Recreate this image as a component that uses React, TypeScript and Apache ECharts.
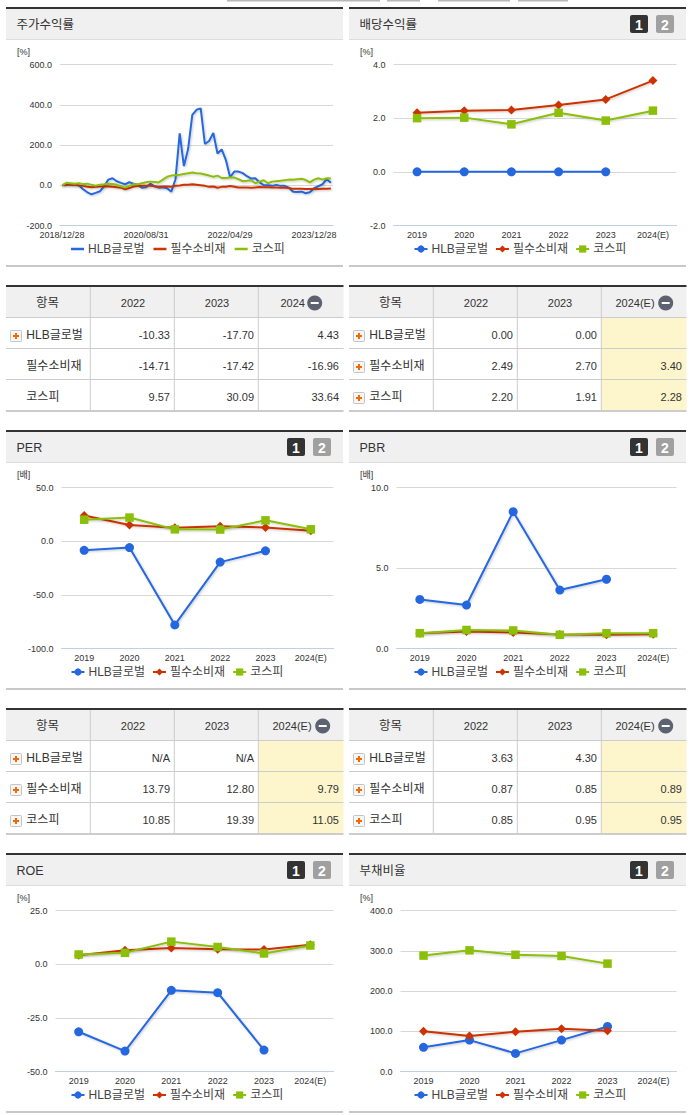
import React, { useEffect, useRef } from "react";
import * as echarts from "echarts";

const NAMES = ["HLB글로벌", "필수소비재", "코스피"];
const COLORS = ["#2567df", "#cc3300", "#8cbf0a"];
const SYMBOLS = ["circle", "diamond", "rect"];
const SYMBOL_SIZES = [9, 9, 8.5];
const YEARS = ["2019", "2020", "2021", "2022", "2023", "2024(E)"];

const priceDates = [
  "2018/12/28","2019/01/31","2019/02/28","2019/03/29","2019/04/30","2019/05/31","2019/06/28","2019/07/31","2019/08/30","2019/09/30","2019/10/31","2019/11/29","2019/12/30",
  "2020/01/31","2020/02/28","2020/03/31","2020/04/29","2020/05/29","2020/06/30","2020/07/31","2020/08/31","2020/09/29","2020/10/30","2020/11/30","2020/12/30",
  "2021/01/29","2021/02/26","2021/03/31","2021/04/30","2021/05/31","2021/06/30","2021/07/30","2021/08/31","2021/09/30","2021/10/29","2021/11/30","2021/12/30",
  "2022/01/28","2022/02/28","2022/03/31","2022/04/29","2022/05/31","2022/06/30","2022/07/29","2022/08/31","2022/09/30","2022/10/31","2022/11/30","2022/12/29",
  "2023/01/31","2023/02/28","2023/03/31","2023/04/28","2023/05/31","2023/06/30","2023/07/31","2023/08/31","2023/09/27","2023/10/31","2023/11/30","2023/12/28",
  "2024/01/31","2024/02/29","2024/03/29","2024/04/30",
];
const priceHlb = [0,5,3,3,0,-20,-35,-45,-38,-30,-5,28,35,20,12,5,15,8,2,-12,-10,8,-5,-12,-10,-15,-32,30,258,95,180,350,375,382,205,220,260,158,178,125,40,68,68,60,45,33,35,15,0,0,-3,2,-3,-3,-12,-32,-33,-32,-40,-35,-15,-5,5,30,12];
const priceStaples = [0,3,3,2,-1,-3,-8,-10,-8,-6,-5,-6,-8,-10,-12,-20,-14,-6,-4,-3,-3,-2,-5,-7,-6,-6,-7,-3,-1,2,3,5,3,0,-3,-8,-6,-12,-8,-7,-4,-7,-11,-11,-11,-13,-11,-9,-10,-10,-11,-11,-12,-13,-14,-18,-18,-17,-19,-19,-18,-19,-18,-17,-16];
const priceKospi = [0,12,10,7,10,5,8,2,-2,3,5,8,6,2,-5,-12,-3,5,5,10,15,18,16,14,28,42,48,50,52,56,60,63,60,58,53,48,42,48,36,36,38,38,30,20,22,25,10,18,25,10,18,20,22,25,28,27,30,32,26,14,28,35,28,35,33];

const dividendHlb = [0, 0, 0, 0, 0, null];
const dividendStaples = [2.2, 2.28, 2.3, 2.49, 2.7, 3.4];
const dividendKospi = [2.0, 2.02, 1.77, 2.2, 1.91, 2.28];
const perHlb = [-8.5, -6, -78, -19.5, -9, null];
const perStaples = [24, 15, 12.5, 13.79, 12.8, 9.79];
const perKospi = [20, 22, 11, 10.85, 19.39, 11.05];
const pbrHlb = [3.05, 2.7, 8.5, 3.63, 4.3, null];
const pbrStaples = [0.95, 1.05, 1.0, 0.87, 0.85, 0.89];
const pbrKospi = [0.95, 1.15, 1.12, 0.85, 0.95, 0.95];
const roeHlb = [-31.5, -40.5, -12.2, -13.3, -40, null];
const roeStaples = [4.2, 6.5, 7.5, 7, 6.8, 9];
const roeKospi = [4.5, 5.3, 10.5, 8, 5, 8.7];
const debtHlb = [60, 78, 45, 78, 112, null];
const debtStaples = [100, 88, 99, 106, 101, null];
const debtKospi = [288, 301, 290, 287, 268, null];

const table1Head = ["항목", "2022", "2023", "2024"];
const table1Rows = [["-10.33", "-17.70", "4.43"], ["-14.71", "-17.42", "-16.96"], ["9.57", "30.09", "33.64"]];
const table2Head = ["항목", "2022", "2023", "2024(E)"];
const table2Rows = [["0.00", "0.00", ""], ["2.49", "2.70", "3.40"], ["2.20", "1.91", "2.28"]];
const table3Rows = [["N/A", "N/A", ""], ["13.79", "12.80", "9.79"], ["10.85", "19.39", "11.05"]];
const table4Rows = [["3.63", "4.30", ""], ["0.87", "0.85", "0.89"], ["0.85", "0.95", "0.95"]];

const FONT = '"Liberation Sans","Noto Sans CJK KR",sans-serif';
const NUM = '"Liberation Sans",sans-serif';

const panels = [
  { title: "주가수익률", unit: "[%]", left: true, top: 7, badges: false, cats: priceDates, data: [priceHlb, priceStaples, priceKospi], min: -200, max: 600, step: 200, g: [60, 64.5, 333, 225.5], bottom: 265, legendY: 250, line: true },
  { title: "배당수익률", unit: "[%]", left: false, top: 7, badges: true, cats: YEARS, data: [dividendHlb, dividendStaples, dividendKospi], min: -2, max: 4, step: 2, g: [393.5, 64.5, 676.5, 225.5], bottom: 265, legendY: 250 },
  { title: "PER", unit: "[배]", left: true, top: 430, badges: true, cats: YEARS, data: [perHlb, perStaples, perKospi], min: -100, max: 50, step: 50, g: [61.5, 487.5, 333.5, 648.5], bottom: 688, legendY: 673 },
  { title: "PBR", unit: "[배]", left: false, top: 430, badges: true, cats: YEARS, data: [pbrHlb, pbrStaples, pbrKospi], min: 0, max: 10, step: 5, g: [396.5, 487.5, 676.5, 648.5], bottom: 688, legendY: 673 },
  { title: "ROE", unit: "[%]", left: true, top: 853, badges: true, cats: YEARS, data: [roeHlb, roeStaples, roeKospi], min: -50, max: 25, step: 25, g: [55.5, 910.5, 333.5, 1071.5], bottom: 1111, legendY: 1096 },
  { title: "부채비율", unit: "[%]", left: false, top: 853, badges: true, cats: YEARS, data: [debtHlb, debtStaples, debtKospi], min: 0, max: 400, step: 100, g: [400.5, 910.5, 676.5, 1071.5], bottom: 1111, legendY: 1096 },
];

const tables = [
  { left: true, top: 285, head: table1Head, rows: table1Rows, plus: [true, false, false], minusX: 314.7, headX: 292.7 },
  { left: false, top: 285, head: table2Head, rows: table2Rows, plus: [true, true, true], minusX: 665.7, headX: 635, shade: true },
  { left: true, top: 708, head: table2Head, rows: table3Rows, plus: [true, true, true], minusX: 322.7, headX: 292, shade: true },
  { left: false, top: 708, head: table2Head, rows: table4Rows, plus: [true, true, true], minusX: 665.7, headX: 635, shade: true },
];

const topTabs = [[227, 153], [387, 33], [438, 72], [518, 50]];

function rect(x: number, y: number, w: number, h: number, fill: string, extra: any = {}) {
  return { type: "rect", silent: true, shape: { x, y, width: w, height: h, r: extra.r || 0 }, style: { fill, stroke: extra.stroke, lineWidth: extra.stroke ? 1 : 0 } };
}
function text(t: string, x: number, y: number, font: string, fill: string, align = "left") {
  return { type: "text", silent: true, x, y, style: { text: t, font, fill, textAlign: align, textVerticalAlign: "middle" } };
}

function panelGraphics(p: any) {
  const x0 = p.left ? 6 : 349;
  const w = 337;
  const out: any[] = [
    rect(x0, p.top, w, 2, "#333333"),
    rect(x0, p.top + 2, w, 30, "#f0f0f0"),
    rect(x0, p.top + 32, w, 1, "#dddddd"),
    rect(x0, p.bottom, w, 2, "#c8c8c8"),
    text(p.title, x0 + 10.5, p.top + 18, `12.5px ${FONT}`, "#333333"),
    text(p.unit, x0 + 11, p.top + 45, `9px ${FONT}`, "#333333"),
  ];
  if (p.badges) {
    const b = x0 + 281;
    out.push(rect(b, p.top + 8, 18, 18, "#333333", { r: 2 }));
    out.push(text("1", b + 9, p.top + 17.5, `bold 14px ${FONT}`, "#ffffff", "center"));
    out.push(rect(b + 26, p.top + 8, 18, 18, "#a0a0a0", { r: 2 }));
    out.push(text("2", b + 35, p.top + 17.5, `bold 14px ${FONT}`, "#ffffff", "center"));
  }
  return out;
}

function tableGraphics(t: any) {
  const x0 = t.left ? 6 : 349;
  const w = 337.5;
  const cols = [x0 + 84.3, x0 + 168.3, x0 + 252.3];
  const ends = [x0 + 164, x0 + 248, x0 + 333];
  const y0 = t.top + 32;
  const rowH = 31;
  const out: any[] = [
    rect(x0, t.top + 2, w, 30, "#f0f0f0"),
    rect(x0, t.top, w, 2, "#333333"),
  ];
  if (t.shade) out.push(rect(cols[2], y0, x0 + w - cols[2], rowH * 3, "#fdf6cd"));
  [0, 1, 2].forEach((i) => out.push(rect(x0, y0 + rowH * i, w, 1, "#cccccc")));
  out.push(rect(x0, y0 + rowH * 3, w, 2, "#cccccc"));
  cols.forEach((c) => out.push(rect(c - 0.5, t.top + 2, 1, 30 + rowH * 3, "#cccccc")));
  out.push(text(t.head[0], x0 + 41.5, t.top + 18, `12.5px ${FONT}`, "#333333", "center"));
  out.push(text(t.head[1], x0 + 127, t.top + 18, `11px ${NUM}`, "#333333", "center"));
  out.push(text(t.head[2], x0 + 211, t.top + 18, `11px ${NUM}`, "#333333", "center"));
  out.push(text(t.head[3], t.headX, t.top + 18, `11px ${NUM}`, "#333333", "center"));
  out.push({ type: "circle", silent: true, shape: { cx: t.minusX, cy: t.top + 18, r: 7.5 }, style: { fill: "#5c6270" } });
  out.push(rect(t.minusX - 4, t.top + 17, 8, 2, "#ffffff"));
  NAMES.forEach((name, i) => {
    const cy = y0 + rowH * i + 18;
    if (t.plus[i]) {
      out.push(rect(x0 + 4.5, cy - 4.5, 11, 11, "#f6f6f6", { stroke: "#c4c4c4", r: 1 }));
      out.push(rect(x0 + 7, cy, 6, 2, "#f56a00"));
      out.push(rect(x0 + 9, cy - 2, 2, 6, "#f56a00"));
    }
    out.push(text(name, x0 + 20.3, cy, `12px ${FONT}`, "#333333"));
    t.rows[i].forEach((v: string, j: number) => {
      if (v) out.push(text(v, ends[j], cy, `11px ${NUM}`, "#333333", "right"));
    });
  });
  return out;
}

function isFlat(values: (number | null)[]) {
  const known = values.filter((v) => v !== null);
  return known.every((v) => v === known[0]);
}

function buildOption() {
  const grid: any[] = [];
  const xAxis: any[] = [];
  const yAxis: any[] = [];
  const series: any[] = [];
  const legend: any[] = [];
  panels.forEach((p: any, idx) => {
    const [l, t, r, b] = p.g;
    grid.push({ left: l, top: t, width: r - l, height: b - t, containLabel: false });
    xAxis.push({
      type: "category",
      gridIndex: idx,
      data: p.cats,
      boundaryGap: true,
      axisLine: { onZero: false, lineStyle: { color: "#c0d0e0", width: 1 } },
      axisTick: p.line ? { alignWithLabel: true, interval: 19, length: 4, lineStyle: { color: "#c0d0e0" } } : { length: 4, lineStyle: { color: "#c0d0e0" } },
      axisLabel: { color: "#333333", fontFamily: NUM, fontSize: 9, margin: 5, interval: p.line ? 19 : 0, hideOverlap: false },
      splitLine: { show: false },
    });
    yAxis.push({
      type: "value",
      gridIndex: idx,
      min: p.min,
      max: p.max,
      interval: p.step,
      axisLine: { show: false },
      axisTick: { show: false },
      axisLabel: { color: "#333333", fontFamily: NUM, fontSize: 9, margin: 8, formatter: (v: number) => v.toFixed(1) },
      splitLine: { lineStyle: { color: "#d8d8d8", width: 1 } },
    });
    const names: string[] = [];
    NAMES.forEach((n, i) => {
      const key = `${n}#${idx}`;
      names.push(key);
      const shadow = isFlat(p.data[i]) ? {} : { shadowColor: "rgba(0,0,0,0.22)", shadowBlur: 2, shadowOffsetX: 1, shadowOffsetY: 1 };
      series.push({
        name: key,
        type: "line",
        xAxisIndex: idx,
        yAxisIndex: idx,
        data: p.data[i],
        symbol: p.line ? "none" : SYMBOLS[i],
        symbolSize: SYMBOL_SIZES[i],
        smooth: false,
        connectNulls: false,
        lineStyle: { color: COLORS[i], width: 2, ...shadow },
        itemStyle: { color: COLORS[i] },
        emphasis: { disabled: true },
      });
    });
    legend.push({
      show: true,
      data: names,
      selectedMode: false,
      left: p.left ? (p.line ? 71 : 70.5) : 413.5,
      top: p.legendY - 7,
      icon: p.line ? "rect" : undefined,
      itemWidth: 13,
      itemHeight: p.line ? 2.5 : 9,
      itemGap: p.line ? 9 : 7,
      padding: 0,
      formatter: (n: string) => n.split("#")[0],
      textStyle: { color: "#444444", fontFamily: FONT, fontSize: 12, padding: [0, 0, 0, -1] },
    });
  });
  const elements: any[] = [];
  topTabs.forEach(([x, w]) => elements.push(rect(x, 0, w, 1.5, "#b8b8b8")));
  panels.forEach((p) => elements.push(...panelGraphics(p)));
  tables.forEach((t) => elements.push(...tableGraphics(t)));
  return {
    animation: false,
    backgroundColor: "#ffffff",
    tooltip: { show: false },
    grid,
    xAxis,
    yAxis,
    series,
    legend,
    graphic: { elements },
  };
}

export default function App() {
  const ref = useRef<HTMLDivElement>(null);
  useEffect(() => {
    document.body.style.margin = "0";
    const chart = echarts.init(ref.current!, undefined, { renderer: "svg", width: 691, height: 1115 });
    chart.setOption(buildOption());
    return () => chart.dispose();
  }, []);
  return <div ref={ref} style={{ width: 691, height: 1115, position: "absolute", left: 0, top: 0 }} />;
}
